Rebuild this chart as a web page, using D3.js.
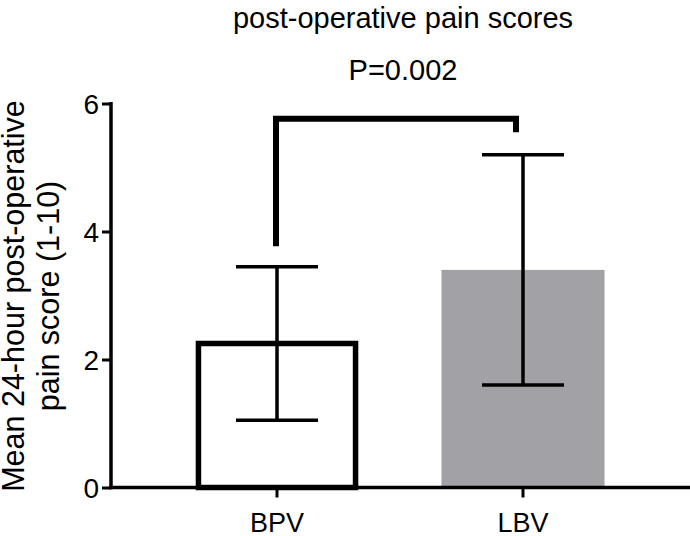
<!DOCTYPE html>
<html>
<head>
<meta charset="utf-8">
<script src="https://cdn.jsdelivr.net/npm/d3@7"></script>
<style>
  body { margin: 0; background: #fff; }
  text { font-family: "Liberation Sans", Arial, Helvetica, sans-serif; fill: #000; }
</style>
</head>
<body>
<div id="chart"></div>
<script>
// data
var groups = ["BPV", "LBV"];
var means = [2.25, 3.4];
var sds = [1.2, 1.8];
var fills = ["#ffffff", "#a2a1a6"];
var yTicks = [0, 2, 4, 6];
// significance bracket: left foot, top, right foot (in score units)
var bracket = { left: 3.77, top: 5.76, right: 5.55, label: "P=0.002" };
var title = "post-operative pain scores";

var width = 690, height = 536;

var svg = d3.select("#chart").append("svg")
    .attr("width", width)
    .attr("height", height);

// scales
var y = d3.scaleLinear().domain([0, 6]).range([487.5, 103.5]);
var x = d3.scaleBand()
    .domain(groups)
    .range([154, 646])
    .paddingInner(0.337)
    .paddingOuter(0.1685);
var cx = d => x(d) + x.bandwidth() / 2;

// bars
groups.forEach(function (g, i) {
    if (i === 0) {
        // open bar, thick outline
        svg.append("rect")
            .attr("x", x(g) + 3)
            .attr("y", y(means[i]))
            .attr("width", x.bandwidth() - 6)
            .attr("height", y(0) - y(means[i]))
            .attr("fill", fills[i])
            .attr("stroke", "#000")
            .attr("stroke-width", 5.5);
    } else {
        svg.append("rect")
            .attr("x", x(g))
            .attr("y", y(means[i]))
            .attr("width", x.bandwidth())
            .attr("height", y(0) - y(means[i]))
            .attr("fill", fills[i]);
    }
});

// error bars
var capW = 82;
var err = svg.append("g").attr("stroke", "#000").attr("stroke-width", 3.5);
groups.forEach(function (g, i) {
    var lo = means[i] - sds[i], hi = means[i] + sds[i];
    err.append("line")
        .attr("x1", cx(g)).attr("x2", cx(g))
        .attr("y1", y(lo)).attr("y2", y(hi));
    [lo, hi].forEach(function (v) {
        err.append("line")
            .attr("x1", cx(g) - capW / 2).attr("x2", cx(g) + capW / 2)
            .attr("y1", y(v)).attr("y2", y(v));
    });
});

// axes
var yAxis = d3.axisLeft(y).tickValues(yTicks).tickSize(9).tickPadding(3).tickFormat(d3.format("d"));
var gy = svg.append("g")
    .attr("transform", "translate(111,0)")
    .call(yAxis);
gy.select(".domain").attr("stroke-width", 3.5).attr("d", "M0," + (y(0) + 1.75) + "V" + (y(6) - 1.5));
gy.selectAll(".tick line").attr("stroke-width", 3);
gy.selectAll(".tick text").style("font-size", "28px").attr("dy", "0.36em");

var xAxis = d3.axisBottom(x).tickSize(10).tickPadding(15);
var gx = svg.append("g")
    .attr("transform", "translate(0," + y(0) + ")")
    .call(xAxis);
gx.select(".domain").attr("stroke-width", 3.5).attr("d", "M109.25,0H690");
gx.selectAll(".tick line").attr("stroke-width", 3);
gx.selectAll(".tick text").style("font-size", "27px");

// significance bracket
var bx1 = cx("BPV") - 1, bx2 = cx("LBV") - 7;
svg.append("path")
    .attr("d", d3.line()([[bx1, y(bracket.left)], [bx1, y(bracket.top)], [bx2, y(bracket.top)], [bx2, y(bracket.right)]]))
    .attr("fill", "none")
    .attr("stroke", "#000")
    .attr("stroke-width", 6)
    .attr("stroke-linejoin", "miter");

svg.append("text")
    .attr("x", 403)
    .attr("y", 80)
    .attr("text-anchor", "middle")
    .style("font-size", "29px")
    .text(bracket.label);

// title
svg.append("text")
    .attr("x", 403)
    .attr("y", 28)
    .attr("text-anchor", "middle")
    .style("font-size", "29px")
    .text(title);

// y axis title
var yt = svg.append("text")
    .attr("transform", "translate(0,296) rotate(-90)")
    .attr("text-anchor", "middle")
    .style("font-size", "30.5px");
yt.append("tspan").attr("x", 0).attr("y", 24).text("Mean 24-hour post-operative");
yt.append("tspan").attr("x", 0).attr("y", 59).text("pain score (1-10)");
</script>
</body>
</html>
